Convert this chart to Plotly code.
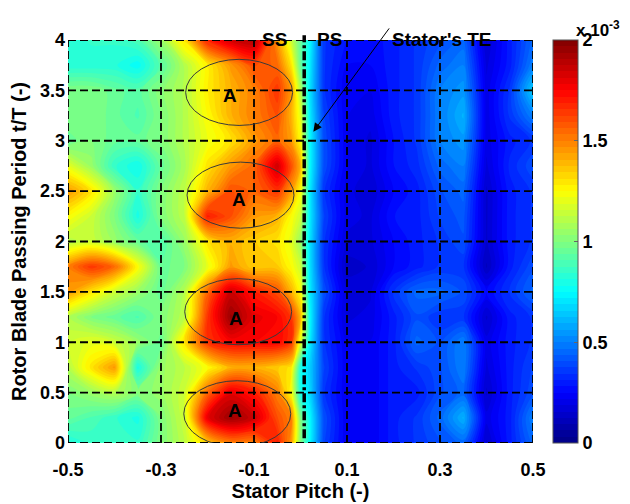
import plotly.graph_objects as go

# ---------------- data ----------------
xs = [-0.5, -0.45, -0.4, -0.35, -0.3, -0.25, -0.2, -0.15, -0.1, -0.05, -0.02, 0.0,
      0.02, 0.05, 0.1, 0.15, 0.2, 0.25, 0.3, 0.35, 0.4, 0.45, 0.5]
ys = [0.0, 0.25, 0.5, 0.75, 1.0, 1.25, 1.5, 1.75, 2.0, 2.25, 2.5, 2.75, 3.0, 3.25, 3.5, 3.75, 4.0]

# values in units of 1e-3 (rows follow ys, columns follow xs)
z_rows = [
    [0.80, 0.85, 0.85, 0.85, 1.00, 1.12, 1.35, 1.50, 1.50, 1.70, 1.45, 1.00, 0.75, 0.38, 0.22, 0.22, 0.30, 0.35, 0.40, 0.45, 0.15, 0.30, 0.45],
    [0.95, 0.90, 0.85, 0.80, 1.00, 1.15, 1.80, 1.95, 1.85, 1.60, 1.50, 1.00, 0.75, 0.40, 0.22, 0.22, 0.30, 0.35, 0.45, 0.60, 0.20, 0.30, 0.50],
    [1.00, 1.05, 1.10, 1.00, 1.05, 1.15, 1.55, 1.80, 1.70, 1.50, 1.25, 0.80, 0.68, 0.35, 0.22, 0.22, 0.30, 0.30, 0.40, 0.45, 0.15, 0.30, 0.40],
    [1.10, 1.30, 1.45, 0.80, 1.05, 1.12, 1.25, 1.40, 1.40, 1.35, 1.30, 0.80, 0.66, 0.38, 0.22, 0.22, 0.30, 0.35, 0.40, 0.50, 0.18, 0.30, 0.38],
    [1.15, 1.20, 1.15, 1.05, 0.95, 1.30, 1.65, 1.75, 1.75, 1.75, 1.65, 1.20, 0.72, 0.35, 0.22, 0.22, 0.30, 0.45, 0.40, 0.50, 0.20, 0.30, 0.35],
    [1.10, 1.00, 0.95, 0.90, 1.00, 1.12, 1.65, 1.95, 1.80, 1.75, 1.65, 1.40, 0.75, 0.35, 0.18, 0.20, 0.30, 0.40, 0.35, 0.35, 0.15, 0.30, 0.35],
    [1.45, 1.30, 1.15, 1.05, 0.95, 1.10, 1.55, 1.85, 1.70, 1.60, 1.40, 1.25, 0.72, 0.40, 0.18, 0.18, 0.35, 0.45, 0.45, 0.40, 0.25, 0.35, 0.45],
    [1.50, 1.65, 1.55, 1.25, 0.95, 1.00, 1.20, 1.45, 1.35, 1.35, 1.25, 1.15, 0.70, 0.35, 0.14, 0.16, 0.25, 0.30, 0.35, 0.35, 0.12, 0.30, 0.40],
    [1.10, 1.15, 1.05, 0.95, 0.90, 1.05, 1.30, 1.40, 1.35, 1.30, 1.20, 1.05, 0.70, 0.35, 0.18, 0.18, 0.25, 0.30, 0.35, 0.40, 0.15, 0.30, 0.35],
    [1.25, 1.15, 1.00, 0.80, 1.00, 1.12, 1.70, 1.60, 1.45, 1.40, 1.25, 1.15, 0.72, 0.38, 0.20, 0.18, 0.28, 0.30, 0.38, 0.42, 0.15, 0.30, 0.35],
    [1.45, 1.30, 1.05, 0.85, 1.00, 1.12, 1.40, 1.60, 1.55, 1.65, 1.45, 1.25, 0.72, 0.35, 0.20, 0.16, 0.25, 0.30, 0.40, 0.45, 0.15, 0.30, 0.35],
    [1.20, 1.05, 0.85, 0.78, 0.95, 1.08, 1.30, 1.45, 1.55, 1.85, 1.60, 1.40, 0.75, 0.40, 0.22, 0.18, 0.28, 0.33, 0.45, 0.50, 0.18, 0.32, 0.40],
    [0.95, 1.00, 0.95, 0.95, 1.00, 1.10, 1.22, 1.30, 1.45, 1.55, 1.45, 1.25, 0.75, 0.40, 0.22, 0.18, 0.28, 0.35, 0.50, 0.55, 0.20, 0.30, 0.35],
    [1.00, 1.00, 0.95, 0.90, 1.00, 1.10, 1.25, 1.40, 1.50, 1.60, 1.40, 1.20, 0.72, 0.38, 0.22, 0.20, 0.30, 0.35, 0.50, 0.60, 0.20, 0.35, 0.50],
    [1.00, 1.00, 0.95, 0.92, 1.02, 1.10, 1.28, 1.40, 1.50, 1.65, 1.45, 1.10, 0.70, 0.35, 0.22, 0.22, 0.30, 0.35, 0.50, 0.55, 0.20, 0.35, 0.65],
    [0.82, 0.82, 0.82, 0.76, 0.92, 1.10, 1.28, 1.45, 1.60, 1.55, 1.30, 0.95, 0.72, 0.35, 0.25, 0.25, 0.30, 0.35, 0.45, 0.50, 0.18, 0.30, 0.50],
    [0.82, 0.85, 0.85, 0.90, 1.05, 1.30, 1.70, 1.85, 1.90, 1.45, 1.15, 0.95, 0.75, 0.35, 0.28, 0.26, 0.30, 0.35, 0.40, 0.45, 0.15, 0.30, 0.45],
]

x_ticks = [-0.5, -0.3, -0.1, 0.1, 0.3, 0.5]
x_ticklabels = ["-0.5", "-0.3", "-0.1", "0.1", "0.3", "0.5"]
y_ticks = [0, 0.5, 1, 1.5, 2, 2.5, 3, 3.5, 4]
y_ticklabels = ["0", "0.5", "1", "1.5", "2", "2.5", "3", "3.5", "4"]
cb_ticks = [0, 0.5, 1, 1.5, 2]
cb_ticklabels = ["0", "0.5", "1", "1.5", "2"]

# annotation features (region A centres, stator trailing edge)
a_centers_x = [-0.132, -0.129, -0.134, -0.136]
a_centers_y = [3.48, 2.46, 1.303, 0.29]
a_label_x = [-0.152, -0.132, -0.139, -0.141]
a_label_y = [3.45, 2.42, 1.24, 0.32]
te_x = 0.008

# ---------------- styling ----------------
jet = [
    [0.0, "rgb(0,0,132)"],
    [0.125, "rgb(0,0,255)"],
    [0.375, "rgb(0,255,255)"],
    [0.625, "rgb(255,255,0)"],
    [0.875, "rgb(255,0,0)"],
    [1.0, "rgb(128,0,0)"],
]
FONT = "Liberation Sans, Arial, sans-serif"


def f(size):
    return dict(family=FONT, size=size, color="black", weight="bold")


fig = go.Figure()
fig.add_trace(go.Contour(
    x=xs, y=ys, z=z_rows,
    colorscale=jet, zmin=0, zmax=2,
    autocontour=False,
    contours=dict(start=0, end=2, size=2 / 64, coloring="fill", showlines=False),
    line=dict(width=0),
    colorbar=dict(
        x=1.0424, xanchor="left", xref="paper", xpad=0, ypad=0,
        y=0.5, yanchor="middle",
        thickness=25, len=403, lenmode="pixels",
        tickvals=cb_ticks, ticktext=cb_ticklabels,
        ticks="inside", ticklen=4, tickcolor="#666",
        tickfont=f(18),
        outlinewidth=1, outlinecolor="#555",
    ),
))

shapes = []
# dashed grid (incl. borders)
for xv in x_ticks:
    shapes.append(dict(type="line", xref="x", yref="y", x0=xv, x1=xv, y0=0, y1=4,
                       line=dict(color="black", width=1.8, dash="8px,4px"), layer="above"))
for yv in y_ticks:
    shapes.append(dict(type="line", xref="x", yref="y", x0=-0.5, x1=0.5, y0=yv, y1=yv,
                       line=dict(color="black", width=1.8, dash="8px,4px"), layer="above"))
# stator trailing edge
shapes.append(dict(type="line", xref="x", yref="paper", x0=te_x, x1=te_x, y0=0.012, y1=1.012,
                   line=dict(color="black", width=3.5, dash="9px,3px,3px,3px"), layer="above"))
# ellipses around regions A
for cx, cy in zip(a_centers_x, a_centers_y):
    shapes.append(dict(type="circle", xref="x", yref="y",
                       x0=cx - 0.115, x1=cx + 0.115, y0=cy - 0.328, y1=cy + 0.328,
                       line=dict(color="#3a3a3a", width=1), layer="above"))

annotations = []
for lx, ly in zip(a_label_x, a_label_y):
    annotations.append(dict(x=lx, y=ly, xref="x", yref="y", text="A", showarrow=False,
                            font=f(19)))
annotations += [
    dict(x=-0.055, y=1.032, xref="x", yref="paper", text="SS", showarrow=False, font=f(19)),
    dict(x=0.063, y=1.032, xref="x", yref="paper", text="PS", showarrow=False, font=f(19)),
    dict(x=0.304, y=1.032, xref="x", yref="paper", text="Stator's TE", showarrow=False,
         font=f(19)),
    dict(x=0.0276, y=3.09, xref="x", yref="y", ax=0.193, ay=4.13, axref="x", ayref="y",
         text="", showarrow=True, arrowhead=2, arrowsize=1.7, arrowwidth=1, arrowcolor="black"),
    dict(x=1.089, y=1.028, xref="paper", yref="paper", xanchor="left", yanchor="middle",
         text="x 10<sup>-3</sup>", showarrow=False, font=f(17)),
]

# the page body adds an 8px offset, so the figure is sized/margined to compensate
fig.update_layout(
    width=622, height=496,
    margin=dict(l=60, r=97, t=32, b=61),
    paper_bgcolor="white", plot_bgcolor="white",
    font=f(18),
    shapes=shapes, annotations=annotations,
    xaxis=dict(range=[-0.5, 0.5], tickvals=x_ticks, ticktext=x_ticklabels,
               showgrid=False, zeroline=False, showline=False, ticks="",
               automargin=False, ticklabelstandoff=14,
               tickfont=f(18),
               title=dict(text="Stator Pitch (-)", standoff=0, font=f(20))),
    yaxis=dict(range=[0, 4], tickvals=y_ticks, ticktext=y_ticklabels,
               showgrid=False, zeroline=False, showline=False, ticks="",
               automargin=False, ticklabelstandoff=2,
               tickfont=f(18),
               title=dict(text="Rotor Blade Passing Period t/T (-)", standoff=8, font=f(20))),
)

fig.write_html("out.html")
